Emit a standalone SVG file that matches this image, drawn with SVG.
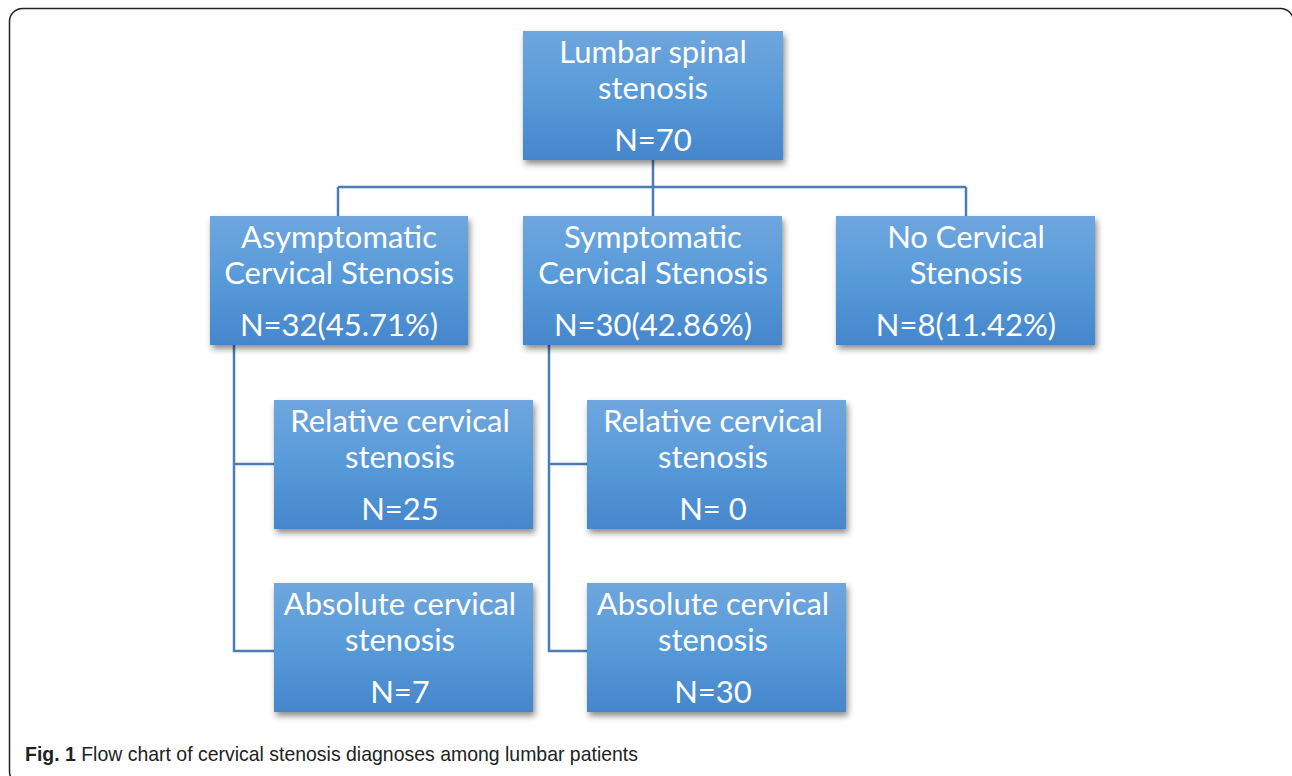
<svg xmlns="http://www.w3.org/2000/svg" width="1292" height="776" viewBox="0 0 1292 776">
<defs>
<linearGradient id="g" x1="0" y1="0" x2="0" y2="1">
<stop offset="0" stop-color="#6fa6de"/>
<stop offset="0.5" stop-color="#579ad9"/>
<stop offset="1" stop-color="#4586cb"/>
</linearGradient>
<filter id="sh" x="-10%" y="-10%" width="125%" height="130%">
<feDropShadow dx="2" dy="4" stdDeviation="3" flood-color="#000" flood-opacity="0.45"/>
</filter>
</defs>
<style>
.box{fill:url(#g);filter:url(#sh)}
.t{font-family:Lato,"Liberation Sans",sans-serif;font-size:31px;fill:#fff;text-anchor:middle}
.c{fill:none;stroke:#4a7db5;stroke-width:2.5}
.cap{font-family:"Liberation Sans",Arial,sans-serif;font-size:21px;fill:#222}
</style>
<rect x="9.5" y="8.5" width="1284" height="776" rx="13" fill="#fff" stroke="#222" stroke-width="1.5"/>
<g id="connectors">
<path class="c" d="M653 160V187M338 187H966M338 187V216M653 187V216M966 187V216"/>
<path class="c" d="M234 345V651H274M234 464H274"/>
<path class="c" d="M549 345V651H587M549 464H587"/>
</g>
<g id="n-lumbar">
<rect class="box" x="523" y="31" width="260" height="129"/>
<text class="t" x="653" y="63">Lumbar spinal</text>
<text class="t" x="653" y="99">stenosis</text>
<text class="t" x="653" y="151">N=70</text>
</g>
<g id="n-asym">
<rect class="box" x="210" y="216" width="258" height="129"/>
<text class="t" x="339" y="248">Asymptomatic</text>
<text class="t" x="339" y="284">Cervical Stenosis</text>
<text class="t" x="339" y="336">N=32(45.71%)</text>
</g>
<g id="n-sym">
<rect class="box" x="523" y="216" width="259" height="129"/>
<text class="t" x="653" y="248">Symptomatic</text>
<text class="t" x="653" y="284">Cervical Stenosis</text>
<text class="t" x="653" y="336">N=30(42.86%)</text>
</g>
<g id="n-none">
<rect class="box" x="836" y="216" width="259" height="129"/>
<text class="t" x="966" y="248">No Cervical</text>
<text class="t" x="966" y="284">Stenosis</text>
<text class="t" x="966" y="336">N=8(11.42%)</text>
</g>
<g id="n-rel-asym">
<rect class="box" x="274" y="400" width="259" height="129"/>
<text class="t" x="400" y="432">Relative cervical</text>
<text class="t" x="400" y="468">stenosis</text>
<text class="t" x="400" y="520">N=25</text>
</g>
<g id="n-rel-sym">
<rect class="box" x="587" y="400" width="259" height="129"/>
<text class="t" x="713" y="432">Relative cervical</text>
<text class="t" x="713" y="468">stenosis</text>
<text class="t" x="713" y="520">N= 0</text>
</g>
<g id="n-abs-asym">
<rect class="box" x="274" y="583" width="259" height="129"/>
<text class="t" x="400" y="615">Absolute cervical</text>
<text class="t" x="400" y="651">stenosis</text>
<text class="t" x="400" y="703">N=7</text>
</g>
<g id="n-abs-sym">
<rect class="box" x="587" y="583" width="259" height="129"/>
<text class="t" x="713" y="615">Absolute cervical</text>
<text class="t" x="713" y="651">stenosis</text>
<text class="t" x="713" y="703">N=30</text>
</g>
<text class="cap" x="25" y="761" textLength="613" lengthAdjust="spacingAndGlyphs"><tspan font-weight="bold">Fig. 1</tspan> Flow chart of cervical stenosis diagnoses among lumbar patients</text>
</svg>
